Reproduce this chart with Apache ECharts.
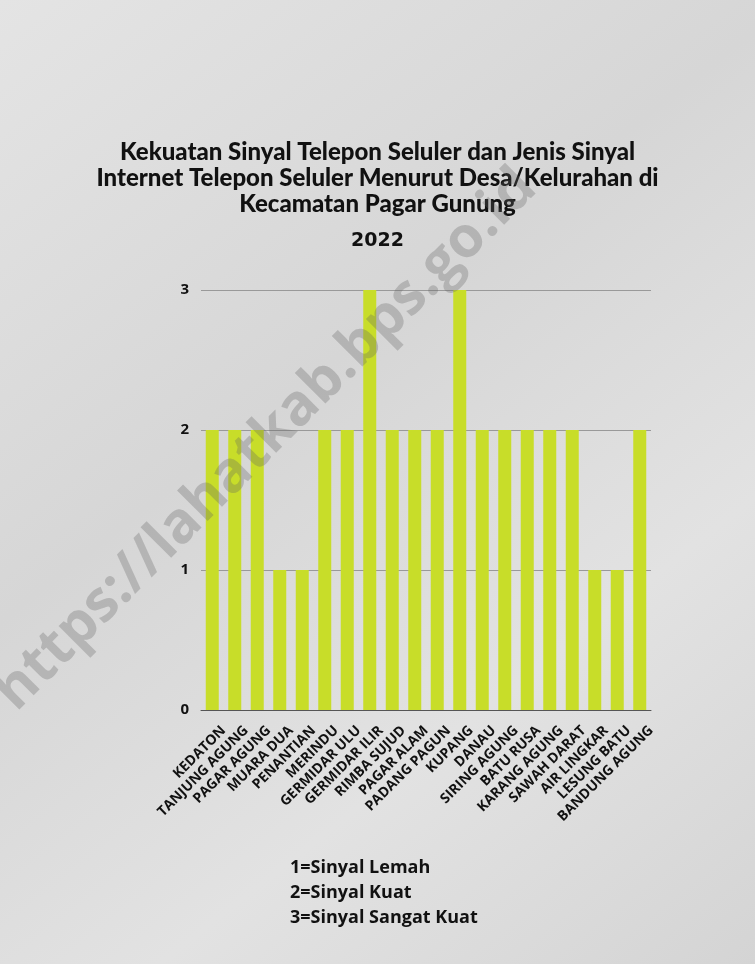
<!DOCTYPE html>
<html>
<head>
<meta charset="utf-8">
<script src="https://cdn.jsdelivr.net/npm/echarts@6/dist/echarts.min.js"></script>
<style>
  html, body { margin: 0; padding: 0; }
  #chart { width: 755px; height: 964px; }
</style>
</head>
<body>
<div id="chart"></div>
<script>
// desa / kelurahan
var desa = [
  'KEDATON', 'TANJUNG AGUNG', 'PAGAR AGUNG', 'MUARA DUA', 'PENANTIAN',
  'MERINDU', 'GERMIDAR ULU', 'GERMIDAR ILIR', 'RIMBA SUJUD', 'PAGAR ALAM',
  'PADANG PAGUN', 'KUPANG', 'DANAU', 'SIRING AGUNG', 'BATU RUSA',
  'KARANG AGUNG', 'SAWAH DARAT', 'AIR LINGKAR', 'LESUNG BATU', 'BANDUNG AGUNG'
]
// kekuatan sinyal (1=lemah, 2=kuat, 3=sangat kuat)
var sinyal = [2, 2, 2, 1, 1, 2, 2, 3, 2, 2, 2, 3, 2, 2, 2, 2, 2, 1, 1, 2]
var yTicks = [0, 1, 2, 3]
var keterangan = ['1=Sinyal Lemah', '2=Sinyal Kuat', '3=Sinyal Sangat Kuat']

var chart = echarts.init(document.getElementById('chart'))
chart.setOption({
  backgroundColor: {
    type: 'linear', x: 0, y: 0, x2: 1, y2: 1,
    colorStops: [
      { offset: 0, color: '#e4e4e4' },
      { offset: 0.4, color: '#d6d6d6' },
      { offset: 0.7, color: '#e2e2e2' },
      { offset: 1, color: '#d4d4d4' }
    ]
  },
  title: [{
    text: 'Kekuatan Sinyal Telepon Seluler dan Jenis Sinyal\nInternet Telepon Seluler Menurut Desa/Kelurahan di\nKecamatan Pagar Gunung',
    left: 'center',
    top: 134,
    textStyle: {
      fontFamily: 'Lato',
      fontWeight: 900,
      fontSize: 24,
      lineHeight: 26,
      color: '#111'
    }
  }, {
    text: '2022',
    left: 'center',
    top: 227,
    textStyle: {
      fontFamily: 'DejaVu Sans',
      fontWeight: 'bold',
      fontSize: 19,
      color: '#111'
    }
  }],
  graphic: [{
    type: 'text',
    x: 266,
    y: 440,
    rotation: Math.PI / 4,
    z: 100,
    style: {
      text: 'https://lahatkab.bps.go.id',
      font: 'bold 57px "Open Sans"',
      fill: 'rgba(100,100,100,0.3)',
      align: 'center',
      verticalAlign: 'middle'
    }
  }, {
    type: 'group',
    left: 290,
    top: 859,
    children: keterangan.map(function(t, i) {
      return {
        type: 'text',
        y: i * 25,
        style: {
          text: t,
          font: 'bold 18px "Open Sans"',
          fill: '#111'
        }
      }
    })
  }],
  grid: {
    left: 201,
    right: 104,
    top: 290,
    bottom: 254
  },
  xAxis: {
    type: 'category',
    data: desa,
    axisTick: { show: false },
    axisLine: { lineStyle: { color: '#555', width: 1 } },
    axisLabel: {
      rotate: 45,
      interval: 0,
      margin: 7,
      verticalAlign: 'top',
      padding: [9, 0, 0, 0],
      color: '#111',
      fontFamily: 'Open Sans',
      fontWeight: 'bold',
      fontSize: 14
    }
  },
  yAxis: {
    type: 'value',
    min: yTicks[0],
    max: yTicks[yTicks.length - 1],
    interval: 1,
    axisLine: { show: false },
    axisTick: { show: false },
    axisLabel: {
      margin: 12,
      color: '#111',
      fontFamily: 'Open Sans',
      fontWeight: 'bold',
      fontSize: 15
    },
    splitLine: { lineStyle: { color: '#999', width: 1 } }
  },
  series: [{
    type: 'bar',
    data: sinyal,
    barWidth: 13,
    itemStyle: { color: '#c8dd29' },
    z: 3
  }]
})
</script>
</body>
</html>
